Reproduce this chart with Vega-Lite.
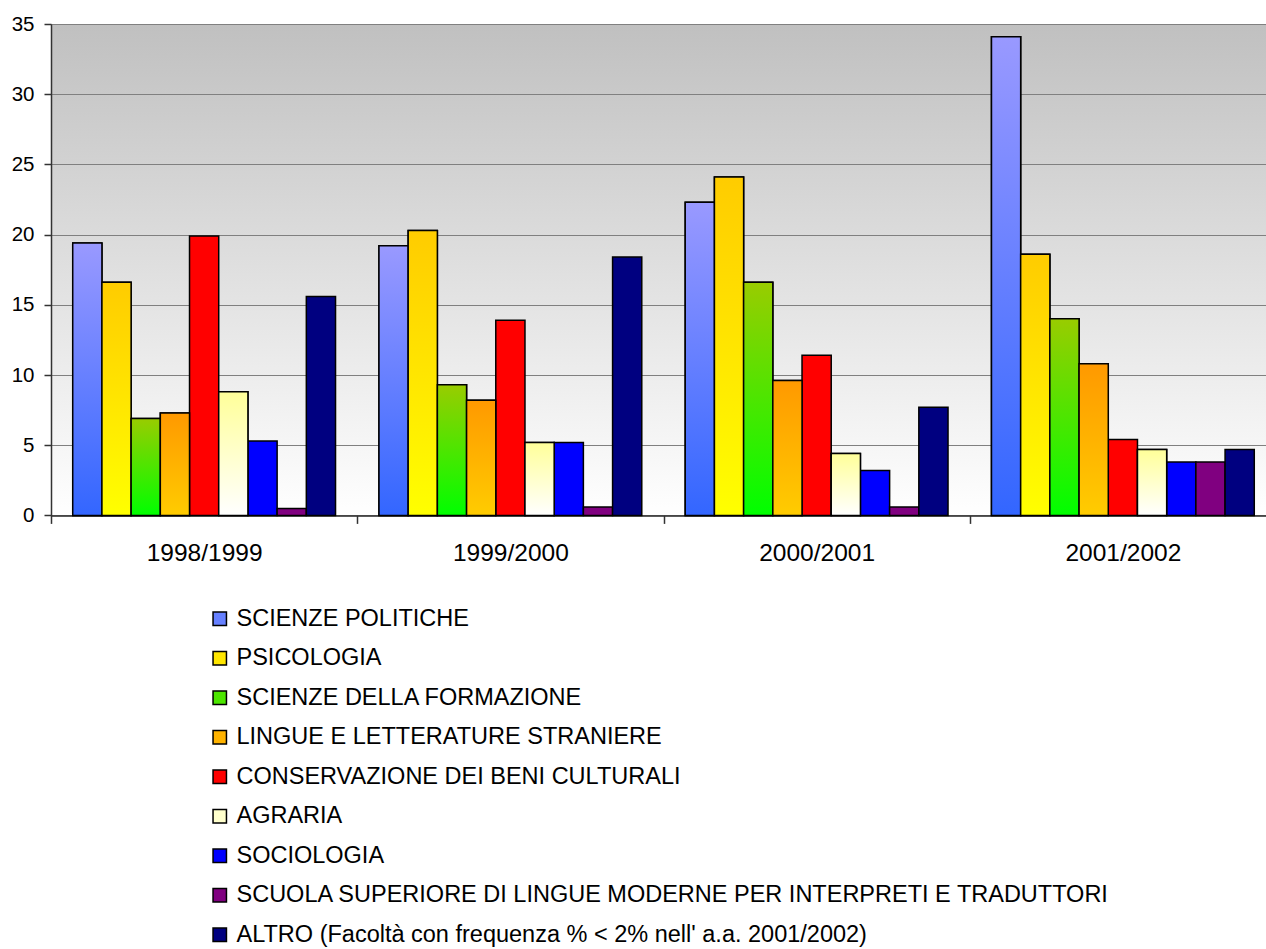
{
  "$schema": "https://vega.github.io/schema/vega-lite/v6.json",
  "width": 1215,
  "height": 491.4,
  "autosize": {"type": "none"},
  "padding": {"left": 51, "top": 24, "right": 0, "bottom": 433.6},
  "background": "white",
  "config": {
    "font": "Liberation Sans",
    "view": {
      "stroke": "#808080",
      "strokeWidth": 1,
      "fill": {"gradient": "linear", "x1": 0, "y1": 0, "x2": 0, "y2": 1, "stops": [{"offset": 0, "color": "#c0c0c0"}, {"offset": 1, "color": "#ffffff"}]}
    }
  },
  "data": {
    "values": [
      {"anno": "1998/1999", "facolta": "SCIENZE POLITICHE", "valore": 19.4},
      {"anno": "1998/1999", "facolta": "PSICOLOGIA", "valore": 16.6},
      {"anno": "1998/1999", "facolta": "SCIENZE DELLA FORMAZIONE", "valore": 6.9},
      {"anno": "1998/1999", "facolta": "LINGUE E LETTERATURE STRANIERE", "valore": 7.3},
      {"anno": "1998/1999", "facolta": "CONSERVAZIONE DEI BENI CULTURALI", "valore": 19.9},
      {"anno": "1998/1999", "facolta": "AGRARIA", "valore": 8.8},
      {"anno": "1998/1999", "facolta": "SOCIOLOGIA", "valore": 5.3},
      {"anno": "1998/1999", "facolta": "SCUOLA SUPERIORE DI LINGUE MODERNE PER INTERPRETI E TRADUTTORI", "valore": 0.5},
      {"anno": "1998/1999", "facolta": "ALTRO (Facoltà con frequenza % < 2% nell' a.a. 2001/2002)", "valore": 15.6},
      {"anno": "1999/2000", "facolta": "SCIENZE POLITICHE", "valore": 19.2},
      {"anno": "1999/2000", "facolta": "PSICOLOGIA", "valore": 20.3},
      {"anno": "1999/2000", "facolta": "SCIENZE DELLA FORMAZIONE", "valore": 9.3},
      {"anno": "1999/2000", "facolta": "LINGUE E LETTERATURE STRANIERE", "valore": 8.2},
      {"anno": "1999/2000", "facolta": "CONSERVAZIONE DEI BENI CULTURALI", "valore": 13.9},
      {"anno": "1999/2000", "facolta": "AGRARIA", "valore": 5.2},
      {"anno": "1999/2000", "facolta": "SOCIOLOGIA", "valore": 5.2},
      {"anno": "1999/2000", "facolta": "SCUOLA SUPERIORE DI LINGUE MODERNE PER INTERPRETI E TRADUTTORI", "valore": 0.6},
      {"anno": "1999/2000", "facolta": "ALTRO (Facoltà con frequenza % < 2% nell' a.a. 2001/2002)", "valore": 18.4},
      {"anno": "2000/2001", "facolta": "SCIENZE POLITICHE", "valore": 22.3},
      {"anno": "2000/2001", "facolta": "PSICOLOGIA", "valore": 24.1},
      {"anno": "2000/2001", "facolta": "SCIENZE DELLA FORMAZIONE", "valore": 16.6},
      {"anno": "2000/2001", "facolta": "LINGUE E LETTERATURE STRANIERE", "valore": 9.6},
      {"anno": "2000/2001", "facolta": "CONSERVAZIONE DEI BENI CULTURALI", "valore": 11.4},
      {"anno": "2000/2001", "facolta": "AGRARIA", "valore": 4.4},
      {"anno": "2000/2001", "facolta": "SOCIOLOGIA", "valore": 3.2},
      {"anno": "2000/2001", "facolta": "SCUOLA SUPERIORE DI LINGUE MODERNE PER INTERPRETI E TRADUTTORI", "valore": 0.6},
      {"anno": "2000/2001", "facolta": "ALTRO (Facoltà con frequenza % < 2% nell' a.a. 2001/2002)", "valore": 7.7},
      {"anno": "2001/2002", "facolta": "SCIENZE POLITICHE", "valore": 34.1},
      {"anno": "2001/2002", "facolta": "PSICOLOGIA", "valore": 18.6},
      {"anno": "2001/2002", "facolta": "SCIENZE DELLA FORMAZIONE", "valore": 14.0},
      {"anno": "2001/2002", "facolta": "LINGUE E LETTERATURE STRANIERE", "valore": 10.8},
      {"anno": "2001/2002", "facolta": "CONSERVAZIONE DEI BENI CULTURALI", "valore": 5.4},
      {"anno": "2001/2002", "facolta": "AGRARIA", "valore": 4.7},
      {"anno": "2001/2002", "facolta": "SOCIOLOGIA", "valore": 3.8},
      {"anno": "2001/2002", "facolta": "SCUOLA SUPERIORE DI LINGUE MODERNE PER INTERPRETI E TRADUTTORI", "valore": 3.8},
      {"anno": "2001/2002", "facolta": "ALTRO (Facoltà con frequenza % < 2% nell' a.a. 2001/2002)", "valore": 4.7}
    ]
  },
  "encoding": {
    "x": {
      "field": "anno", "type": "nominal", "sort": null,
      "scale": {"paddingInner": 0, "paddingOuter": 0, "range": [0, 1225]},
      "axis": {
        "title": null, "labelAngle": 0, "tickBand": "extent",
        "labelFontSize": 24.5, "labelColor": "black", "labelPadding": 18,
        "tickSize": 8, "tickColor": "#333333", "tickWidth": 1.5,
        "domainColor": "#333333", "domainWidth": 1.5, "grid": false
      }
    },
    "xOffset": {
      "field": "facolta", "type": "nominal", "sort": null,
      "scale": {
        "domain": [
          "SCIENZE POLITICHE", "PSICOLOGIA", "SCIENZE DELLA FORMAZIONE", "LINGUE E LETTERATURE STRANIERE",
          "CONSERVAZIONE DEI BENI CULTURALI", "AGRARIA", "SOCIOLOGIA",
          "SCUOLA SUPERIORE DI LINGUE MODERNE PER INTERPRETI E TRADUTTORI",
          "ALTRO (Facoltà con frequenza % < 2% nell' a.a. 2001/2002)"
        ],
        "paddingInner": 0, "paddingOuter": 0.744
      }
    },
    "y": {
      "field": "valore", "type": "quantitative",
      "scale": {"domain": [0, 35], "nice": false},
      "axis": {
        "title": null, "values": [0, 5, 10, 15, 20, 25, 30, 35],
        "labelFontSize": 20.5, "labelColor": "black", "labelPadding": 10,
        "tickSize": 7, "tickColor": "#333333", "tickWidth": 1.5,
        "domainColor": "#333333", "domainWidth": 1.5,
        "grid": true, "gridColor": "#808080", "gridWidth": 1
      }
    }
  },
  "layer": [
    {
      "mark": {"type": "bar", "stroke": "black", "strokeWidth": 1.5, "opacity": 1},
      "encoding": {
        "color": {
          "field": "facolta", "type": "nominal", "sort": null,
          "scale": {
            "domain": [
              "SCIENZE POLITICHE", "PSICOLOGIA", "SCIENZE DELLA FORMAZIONE", "LINGUE E LETTERATURE STRANIERE",
              "CONSERVAZIONE DEI BENI CULTURALI", "AGRARIA", "SOCIOLOGIA",
              "SCUOLA SUPERIORE DI LINGUE MODERNE PER INTERPRETI E TRADUTTORI",
              "ALTRO (Facoltà con frequenza % < 2% nell' a.a. 2001/2002)"
            ],
            "range": ["#6680ff", "#ffe600", "#4ce600", "#ffb300", "#ff0000", "#ffffcc", "#0000ff", "#800080", "#000080"]
          },
          "legend": {
            "title": null, "orient": "none", "legendX": 157, "legendY": 583,
            "direction": "vertical", "padding": 0, "rowPadding": 14.5,
            "symbolType": "square", "symbolSize": 180, "symbolStrokeColor": "black", "symbolStrokeWidth": 1.5,
            "symbolOpacity": 1,
            "labelFontSize": 23.5, "labelColor": "black", "labelOffset": 5, "labelLimit": 1200
          }
        }
      }
    },
    {
      "transform": [{"filter": "datum.facolta === 'SCIENZE POLITICHE'"}],
      "mark": {"type": "bar", "stroke": "black", "strokeWidth": 1.5, "opacity": 1,
        "color": {"gradient": "linear", "x1": 0, "y1": 0, "x2": 0, "y2": 1, "stops": [{"offset": 0, "color": "#9999ff"}, {"offset": 1, "color": "#3366ff"}]}}
    },
    {
      "transform": [{"filter": "datum.facolta === 'PSICOLOGIA'"}],
      "mark": {"type": "bar", "stroke": "black", "strokeWidth": 1.5, "opacity": 1,
        "color": {"gradient": "linear", "x1": 0, "y1": 0, "x2": 0, "y2": 1, "stops": [{"offset": 0, "color": "#ffcc00"}, {"offset": 1, "color": "#ffff00"}]}}
    },
    {
      "transform": [{"filter": "datum.facolta === 'SCIENZE DELLA FORMAZIONE'"}],
      "mark": {"type": "bar", "stroke": "black", "strokeWidth": 1.5, "opacity": 1,
        "color": {"gradient": "linear", "x1": 0, "y1": 0, "x2": 0, "y2": 1, "stops": [{"offset": 0, "color": "#99cc00"}, {"offset": 1, "color": "#00ff00"}]}}
    },
    {
      "transform": [{"filter": "datum.facolta === 'LINGUE E LETTERATURE STRANIERE'"}],
      "mark": {"type": "bar", "stroke": "black", "strokeWidth": 1.5, "opacity": 1,
        "color": {"gradient": "linear", "x1": 0, "y1": 0, "x2": 0, "y2": 1, "stops": [{"offset": 0, "color": "#ff9900"}, {"offset": 1, "color": "#ffcc00"}]}}
    },
    {
      "transform": [{"filter": "datum.facolta === 'AGRARIA'"}],
      "mark": {"type": "bar", "stroke": "black", "strokeWidth": 1.5, "opacity": 1,
        "color": {"gradient": "linear", "x1": 0, "y1": 0, "x2": 0, "y2": 1, "stops": [{"offset": 0, "color": "#ffff99"}, {"offset": 1, "color": "#ffffff"}]}}
    }
  ]
}
